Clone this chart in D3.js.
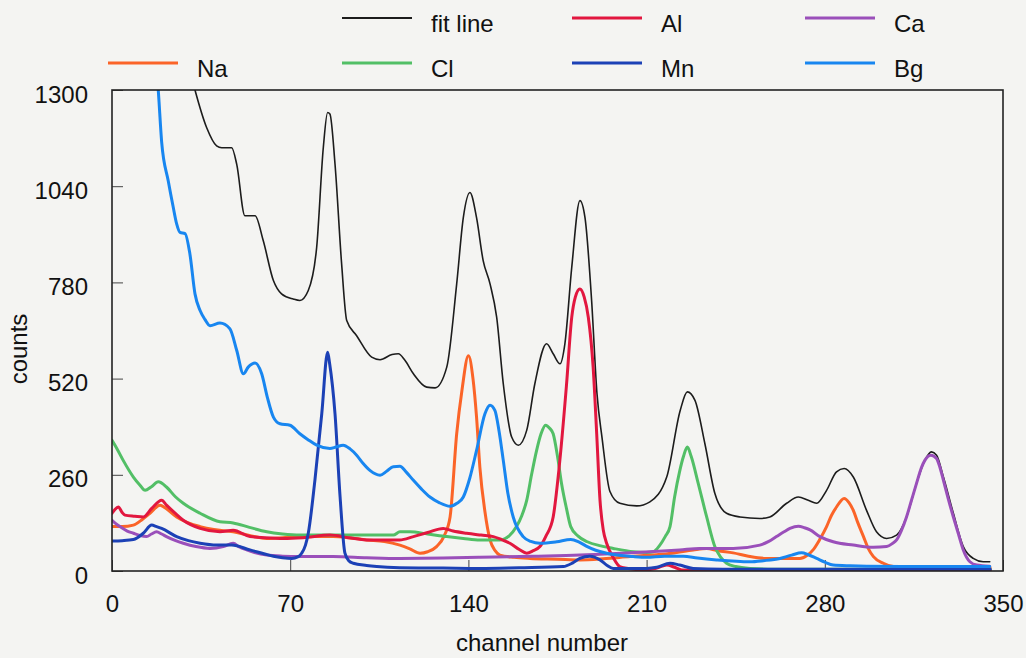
<!DOCTYPE html>
<html><head><meta charset="utf-8">
<script src="https://cdn.jsdelivr.net/npm/d3@7"></script>
<style>
html,body{margin:0;padding:0;background:#f4f4f2;}
svg{display:block;font-family:Arial,"Liberation Sans",sans-serif;}
</style></head><body><svg id="chart" width="1026" height="658"></svg>
<script>
// ---- data: [channel, counts] ----
const xTicks = [0, 70, 140, 210, 280, 350];
const yTicks = [0, 260, 520, 780, 1040, 1300];

const fitLine = [[26,1480],[30,1370],[32.6,1300],[37.2,1198],[41.1,1149],[43.1,1144],[47,1144],[49,1099],[52.2,960],[56.2,960],[59.4,893],[63.4,785],[66.6,749],[71.2,735],[73.8,731],[77.1,758],[80.4,875],[83,1144],[84.7,1239],[85.6,1235],[87.6,1100],[90.2,830],[92.2,677],[96.1,636],[102,578],[105.3,571],[110,585],[112.5,587],[115,570],[118.4,533],[123.6,497],[126.9,495],[131.5,551],[135.4,776],[138,955],[140.6,1023],[143.2,955],[145.8,839],[148.5,776],[151.1,686],[153.7,506],[157,362],[159.6,340],[162.9,380],[166.1,506],[170.7,614],[173.3,587],[176,560],[177.9,614],[180.6,821],[183.8,1001],[185.8,955],[188.4,731],[190.5,480],[192.5,360],[195.6,215],[199.5,183],[206.1,176],[211.3,187],[217.9,254],[223.2,434],[226,484],[229,461],[232.9,344],[236.8,210],[241.4,156],[246.7,146],[254.5,142],[258.4,146],[265,183],[269.6,200],[273.5,191],[276.8,183],[280.7,218],[284.6,268],[287.6,277],[291.2,254],[296.4,164],[300.3,106],[304.3,88],[308.2,97],[312.1,146],[316,236],[319.3,299],[321.9,322],[323.9,313],[326.6,254],[330.5,156],[334.4,66],[338.3,34],[342.2,25],[344.8,25]];

const naSeries = [[0,120],[4,120],[8.4,124],[12,140],[14.9,156],[18.9,178],[21,170],[25.4,146],[30,130],[34.6,120],[40,112],[47.6,106],[54,96],[60.8,88],[67,90],[73.8,93],[80,93],[86.9,93],[93,90],[100,84],[107,80],[113.1,70],[117,60],[121,48],[124,52],[127.5,66],[130.5,95],[132.8,146],[135.4,371],[137.5,490],[140,582],[141.8,520],[143.2,416],[144.5,281],[146.5,160],[148.5,84],[150.5,55],[152.4,43],[158,37],[164.2,34],[175,32],[183.8,30],[193,33],[203.5,39],[211.3,43],[220,48],[228.3,57],[233.6,61],[238,55],[244,49],[250,40],[257.1,34],[264,34],[270.2,34],[273,42],[275.4,57],[278,85],[280.7,120],[282.6,150],[284.6,173],[287.6,196],[289.5,185],[291.2,164],[293,130],[295.2,93],[297,62],[299.1,39],[303,21],[307,12],[320,9],[345,8]];

const clSeries = [[0,353],[2,330],[4.4,299],[8.4,254],[11,232],[13,218],[15.5,228],[18.2,241],[21.4,227],[25,200],[28,183],[34.6,156],[42.4,133],[47.6,130],[54,118],[60.8,106],[67,100],[73.8,97],[86.9,97],[100,97],[110.5,97],[113.1,106],[117,106],[124,100],[131.5,93],[138,88],[144.5,84],[152.4,84],[156,95],[158.9,120],[161,150],[162.9,191],[164.8,260],[166.8,326],[168.5,370],[170.3,394],[172,385],[173.3,371],[175,310],[176.6,236],[178.5,170],[180.2,120],[183,95],[186.7,79],[192,68],[196.9,61],[204.8,52],[210,50],[212.6,52],[215,68],[217.3,93],[219.2,120],[221,200],[223,270],[224.5,310],[226,335],[227.5,310],[230.3,236],[233.6,146],[236.8,66],[239,38],[241.4,21],[245,12],[250.6,7],[260,5],[345,4]];

const alSeries = [[0,156],[1,165],[2.5,173],[4,158],[5.1,151],[9,148],[12.3,146],[15.6,169],[19.5,191],[21.4,178],[25,155],[28,137],[34.6,115],[42.4,106],[47.6,110],[54.2,93],[60,90],[67.3,88],[75,90],[85.6,97],[93,90],[100,84],[113,84],[118.4,93],[124,104],[130.1,115],[134,108],[139.3,102],[145,97],[149.8,93],[153,85],[156.3,75],[160,58],[162.9,48],[165.5,55],[168.1,66],[170.5,95],[173.3,146],[175.5,270],[178.5,500],[180.6,686],[182,740],[183.8,762],[185.5,740],[187.1,686],[189,551],[190.4,371],[191.7,191],[193,110],[194.3,75],[197,35],[199.5,12],[205,5],[210,3],[214,8],[217.9,16],[221,10],[223.8,3],[230,2],[345,2]];

const mnSeries = [[0,81],[4,82],[8.4,85],[12.3,102],[15.6,124],[17.5,120],[19.5,115],[25.4,93],[30,82],[34.6,75],[41.1,70],[47,70],[54.2,57],[60,46],[63.4,40],[67,36],[70.6,34],[73,38],[74.5,48],[76,70],[77.1,102],[79.7,245],[82.4,425],[84.7,591],[85.5,560],[87.6,425],[89.6,200],[91.5,48],[93,28],[94.8,21],[100,15],[104,12],[113,9],[130,8],[144.5,7],[160,9],[177.3,12],[181,22],[183.8,34],[187.7,40],[191.7,30],[194.5,15],[196.9,7],[210,7],[214,10],[219.2,21],[223,16],[228.3,7],[240,5],[345,5]];

const caSeries = [[0,137],[1.5,128],[3.1,120],[6,108],[8.4,102],[11,96],[13.6,93],[15.5,100],[17.5,106],[19.5,100],[21.4,93],[25,82],[28,75],[33,66],[38.5,61],[43.7,66],[47.6,75],[50,65],[52.9,57],[56,50],[60.8,43],[67,40],[73.8,39],[86.9,39],[100,36],[113.1,34],[130,35],[144.5,37],[165,40],[183.8,43],[200,48],[211.3,52],[223,57],[230.9,61],[244,61],[254.5,70],[258,80],[261,93],[264,106],[266.3,115],[269.6,121],[272,117],[274.2,111],[278.1,93],[283.3,79],[291.2,70],[299.1,64],[304.3,66],[306.5,74],[308.2,84],[310,108],[312.1,146],[314,190],[316,236],[318,280],[319.3,299],[321.7,313],[323.9,304],[325,285],[326.6,245],[328.5,195],[330.5,146],[332.5,100],[334.4,57],[337,25],[339.7,16],[344.8,13]];

const bgSeries = [[14,1650],[16,1480],[18.2,1297],[19.5,1160],[22.1,1054],[24,985],[25.4,938],[26.7,915],[28.7,912],[30.6,857],[32.6,749],[34.6,704],[36.5,680],[38.5,663],[42.4,670],[46.3,655],[49,596],[51.6,533],[53.5,551],[56.2,562],[58.8,533],[61,470],[63.4,416],[66,398],[69.9,394],[73.8,371],[77,355],[80.4,340],[85.6,331],[88,335],[90.8,340],[93.5,330],[96.1,313],[98.5,292],[101.3,272],[105.3,259],[108,270],[110.5,282],[113.1,283],[115.5,268],[118.4,245],[121.5,222],[124.9,200],[128.5,185],[132.8,175],[135.5,183],[138,200],[140.5,250],[143.2,326],[146.5,425],[148.5,448],[150.4,434],[152,380],[153.7,299],[155.5,210],[157.6,146],[161.5,93],[164.5,80],[168.1,75],[174.7,79],[180.2,85],[183.5,78],[186.7,66],[190,56],[194.3,48],[204.8,39],[210,37],[217,40],[224.4,40],[230,35],[237.5,30],[250.6,25],[256,28],[262.4,34],[267,43],[270.9,49],[273.5,44],[276.8,34],[280,24],[283.3,16],[290,14],[296.4,13],[320,12],[344.8,12]];

const seriesNames = ["fit line", "Na", "Cl", "Al", "Ca", "Mn", "Bg"];
const seriesData = [fitLine, naSeries, clSeries, alSeries, caSeries, mnSeries, bgSeries];
const seriesColors = ["#1c1c1c", "#fb6428", "#52bf66", "#e2173f", "#9a4fba", "#1c41b6", "#1886f0"];
const seriesWidths = [1.6, 3, 3, 3, 3, 3, 3];
// legend grid: [column, row]
const legendSlots = {"fit line":[1,0], "Al":[2,0], "Ca":[3,0], "Na":[0,1], "Cl":[1,1], "Mn":[2,1], "Bg":[3,1]};

// ---- layout ----
const L = 112, R = 1003, T = 90, B = 571;
const svg = d3.select("#chart");

const x = d3.scaleLinear().domain([0, 350]).range([L, R]);
const y = d3.scaleLinear().domain([0, 1300]).range([B, T]);

svg.append("defs").append("clipPath").attr("id", "plotclip")
  .append("rect").attr("x", L).attr("y", T).attr("width", R - L).attr("height", B - T);

// axes
const xAxis = d3.axisBottom(x).tickValues(xTicks).tickFormat(d3.format("d")).tickSize(-11).tickPadding(24);
const yAxis = d3.axisLeft(y).tickValues(yTicks).tickFormat(d3.format("d")).tickSize(-11).tickPadding(24);

const gx = svg.append("g").attr("transform", `translate(0,${B})`).call(xAxis);
const gy = svg.append("g").attr("transform", `translate(${L},0)`).call(yAxis);
[gx, gy].forEach(g => {
  g.select(".domain").remove();
  g.selectAll(".tick line").attr("stroke", "#444").attr("stroke-width", 1);
  g.selectAll(".tick text").attr("fill", "#111").style("font-size", "24px")
    .style("font-family", "Arial, 'Liberation Sans', sans-serif");
});
gy.selectAll(".tick text").attr("dy", "0.5em");

// lines
const line = d3.line().x(d => x(d[0])).y(d => y(d[1])).curve(d3.curveMonotoneX);
const plot = svg.append("g").attr("clip-path", "url(#plotclip)");
seriesData.forEach((data, i) => {
  plot.append("path").datum(data)
    .attr("d", line)
    .attr("fill", "none")
    .attr("stroke", seriesColors[i])
    .attr("stroke-width", seriesWidths[i])
    .attr("stroke-linejoin", "round")
    .attr("stroke-linecap", "round");
});

// frame
svg.append("rect").attr("x", L).attr("y", T).attr("width", R - L).attr("height", B - T)
  .attr("fill", "none").attr("stroke", "#222").attr("stroke-width", 1.6);

// axis titles
svg.append("text").attr("transform", "translate(27,349) rotate(-90)")
  .attr("text-anchor", "middle").style("font-size", "24px").attr("fill", "#111").text("counts");
svg.append("text").attr("x", 542).attr("y", 651)
  .attr("text-anchor", "middle").style("font-size", "24px").attr("fill", "#111").text("channel number");

// legend
const colX = [108, 342, 572, 805];
const rowY = [18, 63];
seriesNames.forEach((name, i) => {
  const [c, r] = legendSlots[name];
  const g = svg.append("g").attr("transform", `translate(${colX[c]},${rowY[r]})`);
  g.append("line").attr("x1", 0).attr("x2", 70).attr("y1", 0).attr("y2", 0)
    .attr("stroke", seriesColors[i]).attr("stroke-width", i === 0 ? 2 : 3.2);
  g.append("text").attr("x", 89).attr("y", 14).style("font-size", "24px").attr("fill", "#111").text(name);
});
</script></body></html>
